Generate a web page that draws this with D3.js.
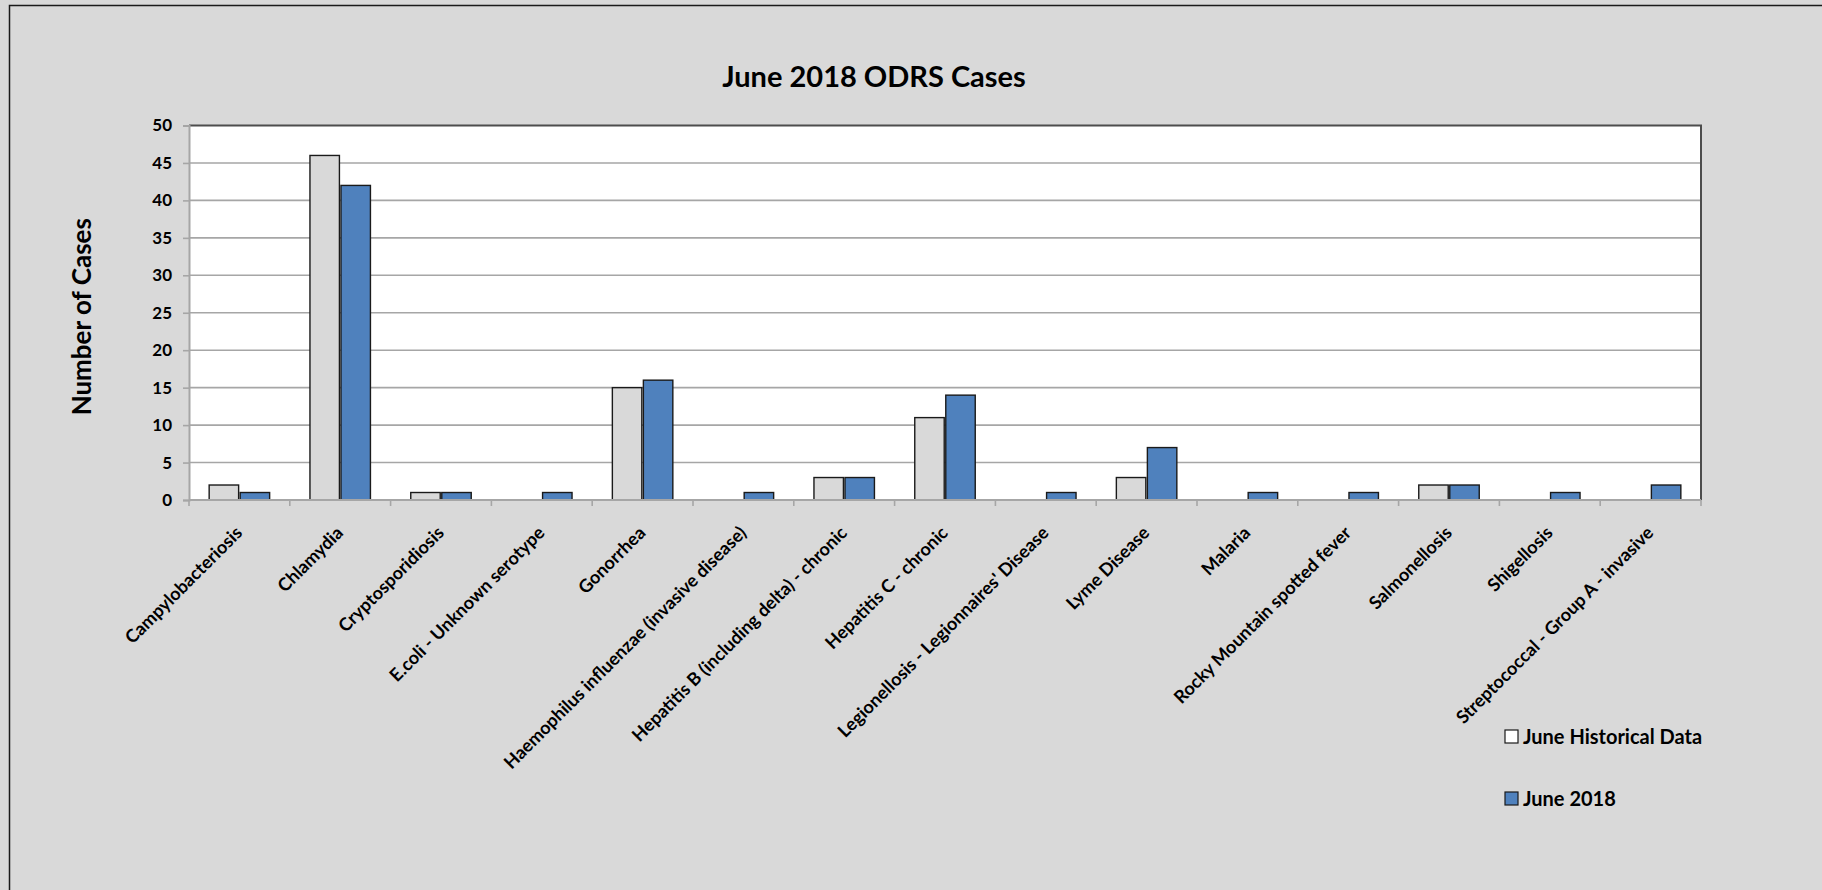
<!DOCTYPE html>
<html>
<head>
<meta charset="utf-8">
<title>June 2018 ODRS Cases</title>
<script src="https://d3js.org/d3.v7.min.js"></script>
<style>
  html, body { margin: 0; padding: 0; background: #d9d9d9; }
  svg { display: block; font-family: Lato, "Open Sans", sans-serif; }
</style>
</head>
<body>
<div id="chart"></div>
<script>
const categories = [
  'Campylobacteriosis',
  'Chlamydia',
  'Cryptosporidiosis',
  'E.coli - Unknown serotype',
  'Gonorrhea',
  'Haemophilus influenzae (invasive disease)',
  'Hepatitis B (including delta) - chronic',
  'Hepatitis C - chronic',
  "Legionellosis - Legionnaires' Disease",
  'Lyme Disease',
  'Malaria',
  'Rocky Mountain spotted fever',
  'Salmonellosis',
  'Shigellosis',
  'Streptococcal - Group A - invasive'
];
const seriesNames = ['June Historical Data', 'June 2018'];
const historical = [2, 46, 1, 0, 15, 0, 3, 11, 0, 3, 0, 0, 2, 0, 0];
const june2018   = [1, 42, 1, 1, 16, 1, 3, 14, 1, 7, 1, 1, 2, 1, 2];
const yTicks = [0, 5, 10, 15, 20, 25, 30, 35, 40, 45, 50];
const colours = ['#d9d9d9', '#4f81bd'];

const width = 1822, height = 890;
const plot = { left: 189, right: 1701, top: 125.5, bottom: 500 };

const svg = d3.select('#chart').append('svg')
  .attr('width', width)
  .attr('height', height);

// chart area
svg.append('rect').attr('width', width).attr('height', height).attr('fill', '#d9d9d9');
svg.append('rect')
  .attr('x', 9.5).attr('y', 5.5)
  .attr('width', 1900).attr('height', 1000)
  .attr('fill', 'none').attr('stroke', '#1a1a1a').attr('stroke-width', 1.5);

const x0 = d3.scaleBand().domain(categories).range([plot.left, plot.right]).padding(0);
const bw = x0.bandwidth();
const x1 = d3.scaleBand().domain(seriesNames).range([bw * 0.2, bw * 0.8]).paddingInner(0.05);
const y = d3.scaleLinear().domain([0, 50]).range([plot.bottom, plot.top]);

// plot area
svg.append('rect')
  .attr('x', plot.left).attr('y', plot.top)
  .attr('width', plot.right - plot.left).attr('height', plot.bottom - plot.top)
  .attr('fill', '#ffffff');

// gridlines
svg.append('g')
  .selectAll('line')
  .data(yTicks.filter(t => t > 0 && t < 50))
  .enter().append('line')
  .attr('x1', plot.left).attr('x2', plot.right)
  .attr('y1', d => y(d)).attr('y2', d => y(d))
  .attr('stroke', '#a6a6a6').attr('stroke-width', 1.6);

// top and right border of the plot
svg.append('path')
  .attr('d', `M${plot.left},${plot.top}H${plot.right}V${plot.bottom}`)
  .attr('fill', 'none').attr('stroke', '#4d4d4d').attr('stroke-width', 2);

// bars
const rows = categories.map((c, i) => ({ cat: c, vals: [historical[i], june2018[i]] }));
const groups = svg.append('g').selectAll('g')
  .data(rows)
  .enter().append('g')
  .attr('transform', d => `translate(${x0(d.cat)},0)`);

groups.selectAll('rect')
  .data(d => d.vals.map((v, k) => ({ s: seriesNames[k], v: v, k: k })).filter(d => d.v > 0))
  .enter().append('rect')
  .attr('x', d => x1(d.s))
  .attr('y', d => y(d.v))
  .attr('width', x1.bandwidth())
  .attr('height', d => y(0) - y(d.v))
  .attr('fill', d => colours[d.k])
  .attr('stroke', '#1a1a1a')
  .attr('stroke-width', 1.4);

// y axis
const yAxis = d3.axisLeft(y).tickValues(yTicks).tickSize(6).tickPadding(11);
const gy = svg.append('g')
  .attr('transform', `translate(${plot.left},0)`)
  .call(yAxis);
gy.select('.domain').attr('stroke', '#a6a6a6').attr('stroke-width', 2);
gy.selectAll('.tick line').attr('stroke', '#a6a6a6').attr('stroke-width', 1.6);
gy.selectAll('.tick text')
  .attr('font-size', 17).attr('font-weight', 'bold').attr('fill', '#000')
  .attr('font-family', 'Lato, sans-serif');

// x axis: ticks at category boundaries
const boundaries = categories.map(c => x0(c)).concat([plot.right]);
const gx = svg.append('g');
gx.append('line')
  .attr('x1', plot.left).attr('x2', plot.right)
  .attr('y1', plot.bottom).attr('y2', plot.bottom)
  .attr('stroke', '#a6a6a6').attr('stroke-width', 2);
gx.selectAll('.xtick')
  .data(boundaries)
  .enter().append('line')
  .attr('class', 'xtick')
  .attr('x1', d => d).attr('x2', d => d)
  .attr('y1', plot.bottom).attr('y2', plot.bottom + 6)
  .attr('stroke', '#a6a6a6').attr('stroke-width', 1.6);

gx.selectAll('.xlabel')
  .data(categories)
  .enter().append('text')
  .attr('class', 'xlabel')
  .attr('transform', d => `translate(${x0(d) + bw / 2 + 4},${plot.bottom + 34}) rotate(-45)`)
  .attr('text-anchor', 'end')
  .attr('font-size', 18)
  .attr('font-weight', 'bold')
  .attr('fill', '#000')
  .text(d => d);

// title
svg.append('text')
  .attr('x', 874).attr('y', 87)
  .attr('text-anchor', 'middle')
  .attr('font-size', 29).attr('font-weight', 'bold')
  .text('June 2018 ODRS Cases');

// y axis title
svg.append('text')
  .attr('transform', `translate(91,${(plot.top + plot.bottom) / 2 + 4}) rotate(-90)`)
  .attr('text-anchor', 'middle')
  .attr('font-size', 26).attr('font-weight', 'bold')
  .text('Number of Cases');

// legend
const legend = svg.append('g').selectAll('g')
  .data(seriesNames)
  .enter().append('g')
  .attr('transform', (d, i) => `translate(1505,${730 + i * 62})`);
legend.append('rect')
  .attr('width', 13).attr('height', 13)
  .attr('fill', (d, i) => i === 0 ? '#ffffff' : colours[1])
  .attr('stroke', '#1a1a1a').attr('stroke-width', 1.2);
legend.append('text')
  .attr('x', 18).attr('y', 14)
  .attr('font-size', 20).attr('font-weight', 'bold')
  .text(d => d);
</script>
</body>
</html>
